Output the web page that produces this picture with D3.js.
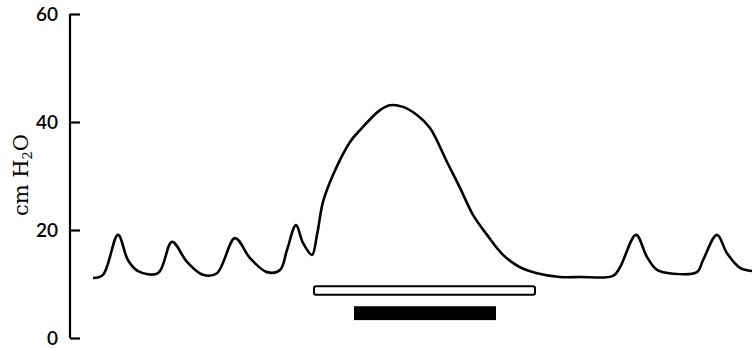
<!DOCTYPE html>
<html>
<head>
<meta charset="utf-8">
<script src="https://cdn.jsdelivr.net/npm/d3@7"></script>
<style>
  body { margin: 0; background: #fff; }
  svg { display: block; }
</style>
</head>
<body>
<svg width="752" height="348"></svg>
<script>
var svg = d3.select("svg"),
    width = +svg.attr("width"),
    height = +svg.attr("height");

// time (s) and airway pressure (cm H2O)
var time = [0.1, 1.1, 2.6, 3.6, 4.6, 6.6, 8.0, 9.5, 11.1, 12.5, 14.3, 15.8, 17.5, 18.8, 19.5, 20.4, 21.1, 22.0,
            22.5, 23.1, 24.1, 25.8, 26.8, 28.8, 29.8, 31.1, 32.5, 33.8, 35.5, 36.8, 38.1, 39.5, 41.1, 42.8, 44.5, 46.8,
            48.8, 52.1, 52.8, 54.4, 55.5, 56.5, 58.1, 60.5, 61.1, 62.5, 63.5, 64.8, 66.0];
var pressure = [11.1, 11.7, 19.1, 14.4, 12.4, 12.0, 17.8, 14.1, 11.7, 12.0, 18.5, 14.8, 12.2, 12.6, 16.3, 20.9, 17.6, 15.4,
                19.1, 25.2, 30.2, 36.3, 38.5, 42.2, 43.1, 42.8, 41.3, 38.9, 32.6, 27.8, 22.8, 19.1, 15.4, 13.1, 12.0, 11.3,
                11.3, 11.5, 13.1, 19.1, 15.0, 12.6, 11.9, 12.2, 14.4, 19.1, 15.7, 13.0, 12.4];

// marker bars: [start, end] in s, [bottom, top] in cm H2O
var barNames = ["open", "filled"];
var barStart = [22.2, 26.3];
var barEnd = [44.3, 40.3];
var barLow = [8.0, 3.5];
var barHigh = [9.6, 5.7];

var yTicks = [0, 20, 40, 60];

var x = d3.scaleLinear().domain([0, 66]).range([92, 752]);
var y = d3.scaleLinear().domain([0, 60]).range([338, 14]);

var points = time.map(function(t, i) { return [t, pressure[i]]; });

var axis = svg.append("g")
    .attr("transform", "translate(70,0)")
    .call(d3.axisRight(y).tickValues(yTicks).tickSize(10).tickPadding(0).tickFormat(""));
axis.select(".domain").attr("stroke", "#000").attr("stroke-width", 2.2)
    .attr("d", "M0," + y(0) + "V" + y(60));
axis.selectAll(".tick line").attr("stroke", "#000").attr("stroke-width", 2.2);

svg.append("g").selectAll("text")
    .data(yTicks)
    .enter().append("text")
    .attr("x", 58)
    .attr("y", function(d) { return y(d); })
    .attr("dy", "0.36em")
    .attr("text-anchor", "end")
    .attr("fill", "#000")
    .attr("font-family", "Lato, 'DejaVu Sans', sans-serif")
    .attr("font-size", 19)
    .attr("font-weight", 600)
    .text(function(d) { return d; });

var label = svg.append("text")
    .attr("transform", "translate(28,175) rotate(-90)")
    .attr("text-anchor", "middle")
    .attr("fill", "#000")
    .attr("font-family", "'DejaVu Serif', serif")
    .attr("font-size", 21);
label.append("tspan").text("cm H");
label.append("tspan").attr("dy", 4).attr("font-size", 13).text("2");
label.append("tspan").attr("dy", -4).text("O");

var line = d3.line()
    .x(function(d) { return x(d[0]); })
    .y(function(d) { return y(d[1]); })
    .curve(d3.curveCatmullRom.alpha(0.5));

svg.append("path")
    .datum(points)
    .attr("fill", "none")
    .attr("stroke", "#000")
    .attr("stroke-width", 2.6)
    .attr("stroke-linejoin", "round")
    .attr("d", line);

svg.append("g").selectAll("rect")
    .data(barNames)
    .enter().append("rect")
    .attr("x", function(d, i) { return x(barStart[i]); })
    .attr("width", function(d, i) { return x(barEnd[i]) - x(barStart[i]); })
    .attr("y", function(d, i) { return y(barHigh[i]); })
    .attr("height", function(d, i) { return y(barLow[i]) - y(barHigh[i]); })
    .attr("rx", function(d) { return d === "open" ? 2 : 0; })
    .attr("fill", function(d) { return d === "open" ? "#fff" : "#000"; })
    .attr("stroke", "#000")
    .attr("stroke-width", 2);
</script>
</body>
</html>
